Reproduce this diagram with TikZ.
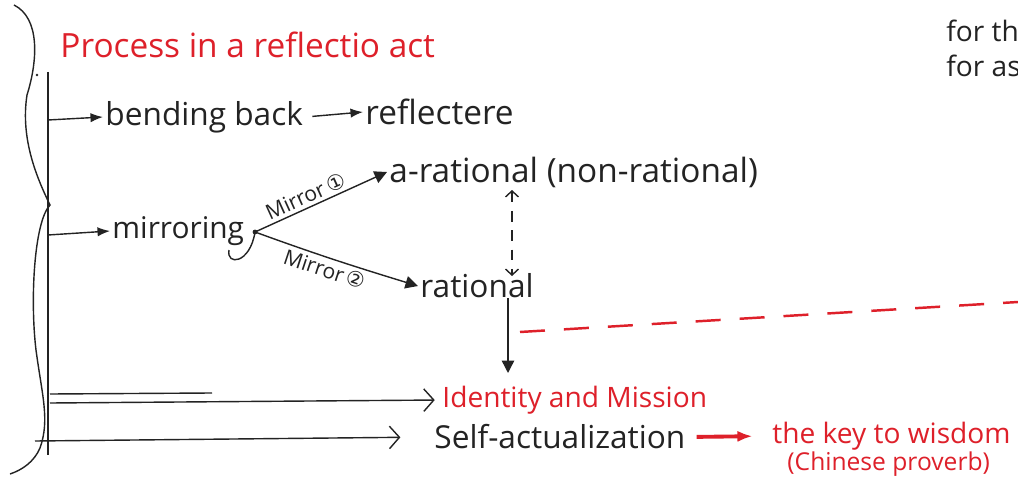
\documentclass[tikz,border=0pt]{standalone}
\usepackage{fontspec}
\setmainfont{Open Sans}
\newfontfamily\circfont{DejaVu Sans}
\usetikzlibrary{arrows.meta}
\definecolor{inkred}{RGB}{222,32,42}
\definecolor{ink}{RGB}{35,35,35}

\begin{document}
\begin{tikzpicture}[x=0.02cm, y=-0.02cm, line width=0.8pt, color=ink]
            \tikzset{edge/.style = {-{Latex[length=2.5mm]}}}
            \tikzset{openedge/.style = {-{Straight Barb[length=2mm,width=4.5mm]}, shorten >= 3pt}}
            \tikzset{triedge/.style = {-{Triangle[length=2.5mm,width=2.5mm]}}}
            \tikzset{hand/.style = {inner sep=1pt, anchor=west, text=ink}}
            \tikzset{redhand/.style = {hand, text=inkred}}

            \useasboundingbox (0,0) rectangle (1018,483);
            \fill[white] (0,0) rectangle (1018,483);

            % brace and spine
            \draw (14,5) .. controls (40,18) and (38,60) .. (27,95) .. controls (20,140) and (38,180) .. (50,205) .. controls (34,222) and (30,300) .. (36,350) .. controls (42,395) and (50,420) .. (40,448) .. controls (34,462) and (22,470) .. (10,474);
            \coordinate (top) at (48,72);
            \coordinate (bot) at (48,455);
            \draw (top) -- (bot);
            \fill (37,75) circle (1.3);

            % title
            \node[redhand, font=\fontsize{19}{22}\selectfont] (title) at (58,45) {Process in a reflectio act};

            % bending back
            \coordinate (b1) at (48,120);
            \node[hand, font=\fontsize{18}{20}\selectfont] (bend) at (103,117) {bending back};
            \node[hand, font=\fontsize{19}{22}\selectfont] (refl) at (363,112) {reflectere};
            \draw[edge] (b1) -- (bend.west);
            \draw[edge, shorten <= 4pt] (bend.east) -- (refl.west);

            % mirroring
            \coordinate (b2) at (48,235);
            \coordinate (mdot) at (255,232);
            \node[hand, font=\fontsize{17}{20}\selectfont] (mirr) at (110,231) {mirroring};
            \draw[edge] (b2) -- (mirr.west);
            \fill (mdot) circle (2.4);
            \draw (mdot) .. controls (250,264) and (226,266) .. (229,250);
            \node[hand, font=\fontsize{19}{22}\selectfont] (arat) at (387,172) {a-rational (non-rational)};
            \node[hand, font=\fontsize{18}{20}\selectfont] (rat) at (418,286) {rational};
            \draw[triedge] (mdot) -- node[pos=0.42, sloped, above, inner sep=2pt, font=\fontsize{12}{14}\selectfont] {Mirror\,{\circfont ①}} (arat.west);
            \draw[triedge] (mdot) to[out=-20, in=163] node[pos=0.45, sloped, below, inner sep=2pt, font=\fontsize{12}{14}\selectfont] {Mirror\,{\circfont ②}} (rat.west);

            % between the two
            \coordinate (dtop) at (512,190);
            \coordinate (dbot) at (512,276);
            \draw[dash pattern=on 6pt off 5pt, {Straight Barb[length=1.2mm,width=2.6mm]}-{Straight Barb[length=1.2mm,width=2.6mm]}] (dtop) -- (dbot);
            \coordinate (rdn) at (508,298);
            \coordinate (rend) at (508,373);
            \draw[triedge] (rdn) -- (rend);

            % red cut
            \coordinate (cut1) at (520,332);
            \coordinate (cut2) at (1018,302);
            \draw[inkred, line width=1.4pt, dash pattern=on 0.5cm off 0.38cm] (cut1) -- (cut2);

            % identity and self-actualization
            \node[redhand, font=\fontsize{16}{19}\selectfont] (ident) at (440,400) {Identity and Mission};
            \node[hand, font=\fontsize{18}{20}\selectfont] (self) at (432,437) {Self-actualization};
            \coordinate (b3) at (50,394);
            \coordinate (b3e) at (212,393);
            \coordinate (b4) at (50,403);
            \coordinate (b5) at (35,441);
            \draw (b3) -- (b3e);
            \draw[openedge] (b4) -- (ident.west);
            \draw[openedge, shorten >= 18pt] (b5) -- (self.west);

            % proverb
            \node[redhand, font=\fontsize{16}{19}\selectfont] (key) at (770,436) {the key to wisdom};
            \node[redhand, font=\fontsize{14}{17}\selectfont] (prov) at (785,464) {(Chinese proverb)};
            \draw[inkred, line width=2.2pt, -{Latex[length=3mm]}, shorten <= 5pt, shorten >= 10pt] (self.east) -- (key.west);

            % cut-off notes
            \node[hand, font=\fontsize{16}{19}\selectfont] (note1) at (944,31) {for the};
            \node[hand, font=\fontsize{16}{19}\selectfont] (note2) at (944,66) {for as};

\end{tikzpicture}
\end{document}
